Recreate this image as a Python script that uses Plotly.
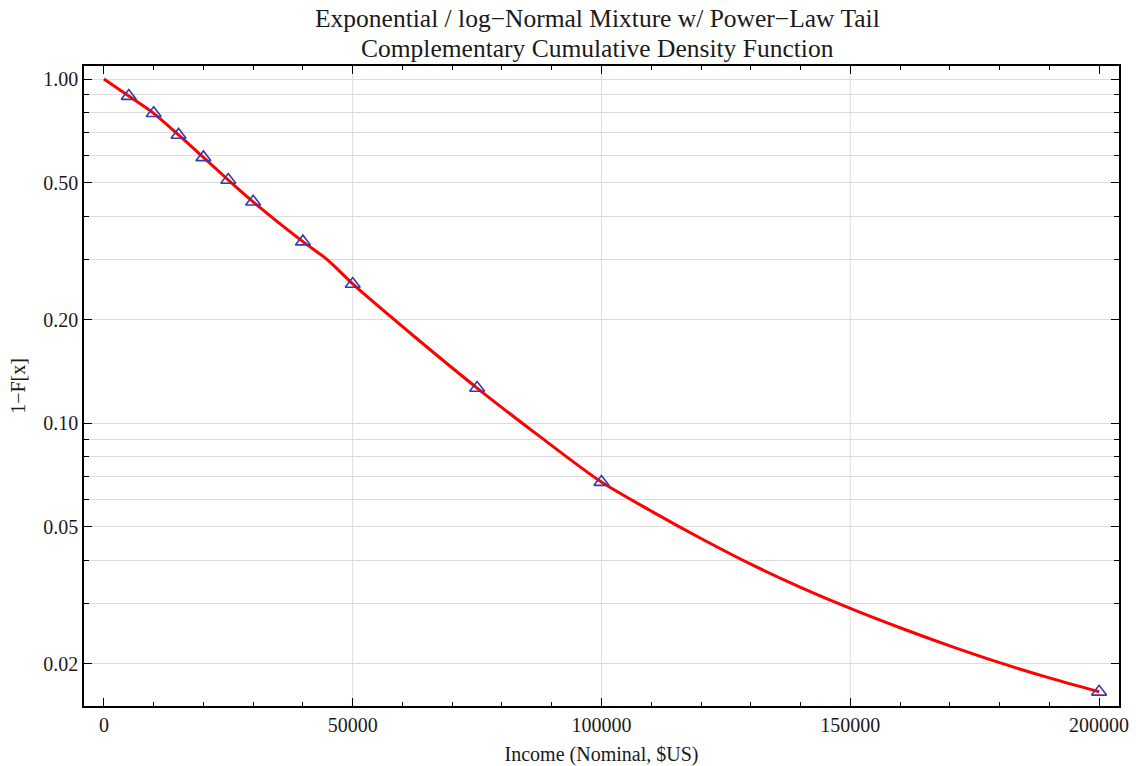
import plotly.graph_objects as go

# Data
CURVE_X = [0, 5000, 10000, 15000, 20000, 25000, 30000, 40000, 45000, 50000,
           62500, 75000, 87500, 100000, 110000, 120000, 130000, 140000, 150000,
           160000, 170000, 180000, 190000, 200000]
CURVE_Y = [1.0, 0.892, 0.795, 0.688, 0.592, 0.509, 0.440, 0.337, 0.298, 0.254,
           0.1781, 0.1266, 0.0918, 0.0675, 0.0556, 0.0463, 0.0390, 0.0334, 0.0290,
           0.02548, 0.02258, 0.02018, 0.01822, 0.01661]

POINTS_X = [5000, 10000, 15000, 20000, 25000, 30000, 40000, 50000, 75000, 100000, 200000]
POINTS_Y = [0.892, 0.795, 0.688, 0.592, 0.509, 0.440, 0.337, 0.254, 0.1266, 0.0675, 0.0166]

TITLE_LINES = ["Exponential / log\u2212Normal Mixture w/ Power\u2212Law Tail",
               "Complementary Cumulative Density Function"]
X_TICKS = [0, 50000, 100000, 150000, 200000]
X_TICK_TEXT = ["0", "50000", "100000", "150000", "200000"]
X_GRID = [50000, 100000, 150000]
Y_TICKS = [0.02, 0.05, 0.1, 0.2, 0.5, 1.0]
Y_TICK_TEXT = ["0.02", "0.05", "0.10", "0.20", "0.50", "1.00"]
Y_MINOR = [0.03, 0.04, 0.06, 0.07, 0.08, 0.09, 0.3, 0.4, 0.6, 0.7, 0.8, 0.9]

FONT = "Liberation Serif"
GRID = "#dcdcdc"

fig = go.Figure()
fig.add_trace(go.Scatter(
    x=CURVE_X, y=CURVE_Y, mode="lines",
    line=dict(color="#ff0000", width=3, shape="spline", smoothing=0.8),
    showlegend=False, hoverinfo="skip"))
fig.add_trace(go.Scatter(
    x=POINTS_X, y=POINTS_Y, mode="markers",
    marker=dict(symbol="triangle-up-open", size=13, color="#3a3aa8",
                line=dict(width=1.6, color="#3a3aa8")),
    showlegend=False))

for gx in X_GRID:
    fig.add_shape(type="line", xref="x", yref="paper", x0=gx, x1=gx, y0=0, y1=1,
                  line=dict(color=GRID, width=1), layer="below")

for text, yy in zip(TITLE_LINES, [1.075, 1.028]):
    fig.add_annotation(text=text, xref="paper", yref="paper", x=0.4966, y=yy,
                       xanchor="center", yanchor="middle", showarrow=False,
                       font=dict(family=FONT, size=25.5, color="#1a1a1a"))

fig.update_layout(
    width=1136, height=766,
    paper_bgcolor="white", plot_bgcolor="white",
    margin=dict(l=84, r=17, t=66, b=60, autoexpand=False),
    font=dict(family=FONT, color="#1a1a1a", size=20),
    xaxis=dict(
        range=[-4000, 204000], tickmode="array", tickvals=X_TICKS, ticktext=X_TICK_TEXT,
        showgrid=False, zeroline=False, automargin=False,
        ticks="inside", ticklen=8, tickwidth=1, tickcolor="black",
        showline=True, linecolor="black", linewidth=1.5, mirror="ticks",
        minor=dict(dtick=10000, tick0=0, ticks="inside", ticklen=4, tickcolor="black", showgrid=False),
        tickfont=dict(size=20),
        title=dict(text="Income (Nominal, $US)", font=dict(size=20), standoff=13)),
    yaxis=dict(
        type="log", range=[-1.821, 0.0378], tickmode="array", tickvals=Y_TICKS, ticktext=Y_TICK_TEXT,
        showgrid=True, gridcolor=GRID, gridwidth=1, zeroline=False, automargin=False,
        ticks="inside", ticklen=8, tickwidth=1, tickcolor="black",
        showline=True, linecolor="black", linewidth=1.5, mirror="ticks",
        minor=dict(tickmode="array", tickvals=Y_MINOR, ticks="inside", ticklen=5,
                   tickcolor="black", showgrid=True, gridcolor=GRID, gridwidth=1),
        tickfont=dict(size=20),
        title=dict(text="1\u2212F[x]", font=dict(size=20), standoff=12)),
)

fig.write_html("out.html", config={"displayModeBar": False},
               post_script="document.body.style.margin='0';document.body.style.overflow='hidden';")
